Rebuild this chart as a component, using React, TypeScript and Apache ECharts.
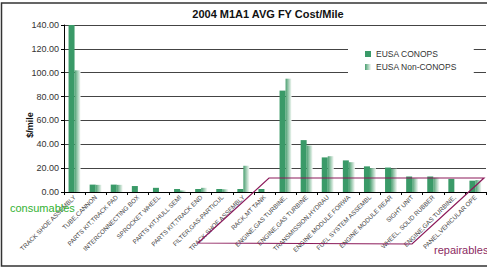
import React, { useEffect, useRef } from "react";
import * as echarts from "echarts";

const categories = [
  "TRACK SHOE ASSEMBLY",
  "TUBE,CANNON",
  "PARTS KIT,TRACK PAD",
  "INTERCONNECTING BOX",
  "SPROCKET WHEEL",
  "PARTS KIT,HULL SEMI",
  "PARTS KIT,TRACK END",
  "FILTER,GAS-PARTICUL",
  "TRACK SHOE ASSEMBLY",
  "RACK,MT TANK",
  "ENGINE,GAS TURBINE,",
  "ENGINE,GAS TURBINE",
  "TRANSMISSION,HYDRAU",
  "ENGINE MODULE FORWA",
  "FUEL SYSTEM ASSEMBL",
  "ENGINE MODULE REAR",
  "SIGHT UNIT",
  "WHEEL, SOLID RUBBER",
  "ENGINE,GAS TURBINE,",
  "PANEL,VEHICULAR OPE",
];
const conops = [140, 6.2, 6.2, 5, 3.5, 2.5, 2.5, 2.5, 2.5, 2.5, 85, 43.5, 29, 26.5, 21.5, 20.5, 13, 13, 11, 9.5];
const nonConops = [102, 6, 6, 0, 0, 1.3, 3.5, 2.3, 22, 0, 95, 39, 30, 25, 20, 19.5, 11.5, 12, 0, 10];
const yTicks = { min: 0, max: 140, interval: 20 };
const title = "2004 M1A1 AVG FY Cost/Mile";
const seriesNames = ["EUSA CONOPS", "EUSA Non-CONOPS"];

const FONT = "'Liberation Sans', Arial, sans-serif";

export default function App() {
  const ref = useRef<HTMLDivElement>(null);
  useEffect(() => {
    document.body.style.margin = "0";
    const chart = echarts.init(ref.current!, null, { renderer: "svg" });
    const grad = new echarts.graphic.LinearGradient(0, 0, 1, 0, [
      { offset: 0, color: "#4a9f70" },
      { offset: 1, color: "#f7faf7" },
    ]);
    chart.setOption({
      animation: false,
      backgroundColor: "#fff",
      textStyle: { fontFamily: FONT },
      grid: { left: 64, right: 1, top: 25, bottom: 76 },
      legend: {
        orient: "vertical",
        left: 348,
        top: 45,
        padding: [4, 17, 4, 17],
        backgroundColor: "#fff",
        itemWidth: 6,
        itemHeight: 6,
        itemGap: 3,
        icon: "rect",
        textStyle: { fontSize: 8.5, color: "#333", lineHeight: 10, fontFamily: FONT },
        data: seriesNames,
        z: 10,
      },
      xAxis: {
        type: "category",
        data: categories,
        axisLine: { lineStyle: { color: "#000", width: 1 } },
        axisTick: { show: true, length: 3, lineStyle: { color: "#000" } },
        axisLabel: {
          interval: 0,
          rotate: 45,
          fontSize: 6.3,
          color: "#444",
          margin: 4,
          fontFamily: FONT,
        },
      },
      yAxis: {
        type: "value",
        min: yTicks.min,
        max: yTicks.max,
        interval: yTicks.interval,
        axisLine: { show: true, lineStyle: { color: "#000", width: 1 } },
        axisTick: { show: true, length: 3, lineStyle: { color: "#000" } },
        axisLabel: {
          fontSize: 9,
          color: "#333",
          margin: 5,
          fontFamily: FONT,
          formatter: (v: number) => v.toFixed(2),
        },
        splitLine: { lineStyle: { color: "#444", width: 1 } },
      },
      series: [
        {
          name: seriesNames[0],
          type: "bar",
          data: conops,
          barWidth: 6,
          barGap: "0%",
          itemStyle: { color: "#3a9a68" },
        },
        {
          name: seriesNames[1],
          type: "bar",
          data: nonConops,
          barWidth: 6,
          itemStyle: { color: grad },
        },
      ],
      graphic: [
        {
          type: "rect",
          shape: { x: 1.5, y: 3, width: 495, height: 263 },
          style: { fill: "none", stroke: "#333", lineWidth: 1.5 },
          silent: true,
          z: 100,
        },
        {
          type: "text",
          x: 268,
          y: 14,
          style: {
            text: title,
            font: `bold 11px ${FONT}`,
            fill: "#111",
            textAlign: "center",
            textVerticalAlign: "middle",
          },
        },
        {
          type: "text",
          x: 30,
          y: 125,
          rotation: Math.PI / 2,
          style: {
            text: "$/mile",
            font: `bold 9px ${FONT}`,
            fill: "#111",
            textAlign: "center",
            textVerticalAlign: "middle",
          },
        },
        {
          type: "text",
          x: 10,
          y: 208,
          style: {
            text: "consumables",
            font: `11px ${FONT}`,
            fill: "#33b233",
            textAlign: "left",
            textVerticalAlign: "middle",
          },
          z: 50,
        },
        {
          type: "text",
          x: 434,
          y: 250,
          style: {
            text: "repairables",
            font: `11px ${FONT}`,
            fill: "#8b2a62",
            textAlign: "left",
            textVerticalAlign: "middle",
          },
          z: 50,
        },
        {
          type: "polygon",
          shape: {
            points: [
              [198, 243],
              [269, 178],
              [484, 178],
              [412, 244],
            ],
          },
          style: { fill: "none", stroke: "#8b1a5a", lineWidth: 1.2 },
          silent: true,
          z: 50,
        },
      ],
    });
    return () => chart.dispose();
  }, []);
  return <div ref={ref} style={{ width: 487, height: 268 }} />;
}
